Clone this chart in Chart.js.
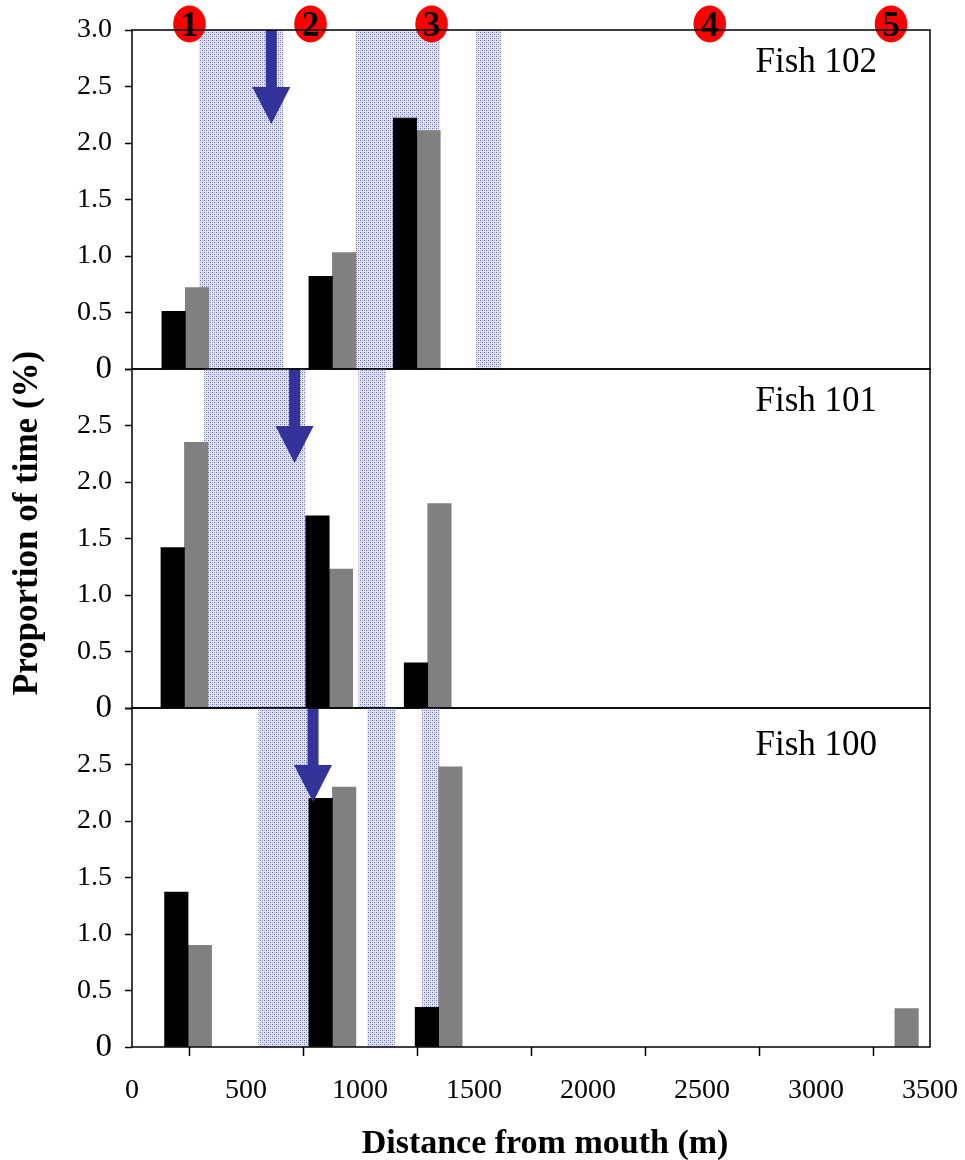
<!DOCTYPE html>
<html><head><meta charset="utf-8">
<script src="https://cdn.jsdelivr.net/npm/chart.js@4.4.1/dist/chart.umd.min.js"></script>
<style>
html,body{margin:0;padding:0;background:#fff;}
#wrap{position:relative;width:965px;height:1160px;overflow:hidden;}
canvas{position:absolute;left:0;top:0;}
</style></head><body>
<div id="wrap">
<canvas id="c1" width="965" height="1160"></canvas>
<canvas id="c2" width="965" height="1160"></canvas>
<canvas id="c3" width="965" height="1160"></canvas>
</div>
<script>
// ---- data ----
const distanceTicks = [0, 500, 1000, 1500, 2000, 2500, 3000, 3500];
const yTickValues = [0, 0.5, 1, 1.5, 2, 2.5, 3];
const yTickLabels = ['0', '0.5', '1.0', '1.5', '2.0', '2.5', '3.0'];
const fishNames = ['Fish 102', 'Fish 101', 'Fish 100'];

const fish102Dist  = [234, 879, 1249];
const fish102Black = [0.51, 0.82, 2.22];
const fish102Grey  = [0.72, 1.03, 2.11];

const fish101Dist  = [230, 865, 1297];
const fish101Black = [1.42, 1.70, 0.40];
const fish101Grey  = [2.35, 1.23, 1.81];

const fish100Dist  = [246, 879, 1345, 3346];
const fish100Black = [1.37, 2.20, 0.35, null];
const fish100Grey  = [0.90, 2.30, 2.48, 0.34];

const fish102Bands = [[294, 664], [979, 1351], [1509, 1618]];
const fish101Bands = [[316, 761], [993, 1114]];
const fish100Bands = [[554, 781], [1032, 1154], [1271, 1351]];

const arrowDist = [611, 713, 794];
const siteDist = [252, 783, 1314, 2534, 3329];
const siteLabels = ['1', '2', '3', '4', '5'];

const xTitle = 'Distance from mouth (m)';
const yTitle = 'Proportion of time (%)';

// ---- styling helpers ----
const SERIF = '"Liberation Serif", "Times New Roman", serif';
function makePattern(ctx) {
  const t = document.createElement('canvas');
  t.width = 4; t.height = 4;
  const g = t.getContext('2d');
  g.fillStyle = '#e3e4f4';
  g.fillRect(0, 0, 4, 4);
  g.fillStyle = '#6a6fc0';
  g.fillRect(0, 0, 1, 1);
  g.fillRect(2, 2, 1, 1);
  g.fillStyle = '#a9acdc';
  g.fillRect(2, 0, 1, 1);
  g.fillRect(0, 2, 1, 1);
  return ctx.createPattern(t, 'repeat');
}

function makePanel(id, idx, dist, black, grey, bands, padTop, padBottom, isBottom) {
  const toPts = (vals) => dist.map((d, k) => ({x: d, y: vals[k]})).filter(p => p.y !== null);
  const panelPlugin = {
    id: 'panelDeco' + idx,
    beforeDatasetsDraw(chart) {
      const {ctx, chartArea: a, scales: {x}} = chart;
      ctx.save();
      ctx.fillStyle = makePattern(ctx);
      bands.forEach(([s, e]) => {
        const x1 = x.getPixelForValue(s), x2 = x.getPixelForValue(e);
        ctx.fillRect(x1, a.top, x2 - x1, a.bottom - a.top);
      });
      if (idx === 0) {
        ctx.fillStyle = '#ff0000';
        siteDist.forEach(d => {
          ctx.beginPath();
          ctx.ellipse(x.getPixelForValue(d), a.top - 6, 16.3, 18.5, 0, 0, Math.PI * 2);
          ctx.fill();
        });
      }
      ctx.restore();
    },
    afterDatasetsDraw(chart) {
      const {ctx, chartArea: a, scales: {x}} = chart;
      ctx.save();
      // arrow
      const ax = x.getPixelForValue(arrowDist[idx]);
      ctx.fillStyle = '#333399';
      ctx.beginPath();
      ctx.moveTo(ax - 5.5, a.top);
      ctx.lineTo(ax + 5.5, a.top);
      ctx.lineTo(ax + 5.5, a.top + 57);
      ctx.lineTo(ax + 19, a.top + 57);
      ctx.lineTo(ax, a.top + 94);
      ctx.lineTo(ax - 19, a.top + 57);
      ctx.lineTo(ax - 5.5, a.top + 57);
      ctx.closePath();
      ctx.fill();
      // frame
      ctx.strokeStyle = '#000';
      ctx.lineWidth = 1.5;
      ctx.strokeRect(a.left, a.top, a.right - a.left, a.bottom - a.top);
      // fish label
      ctx.fillStyle = '#000';
      ctx.font = '35px ' + SERIF;
      ctx.textAlign = 'right';
      ctx.textBaseline = 'alphabetic';
      ctx.fillText(fishNames[idx], 877, a.top + [42, 42, 47][idx]);
      // site digits
      if (idx === 0) {
        ctx.font = 'bold 35px ' + SERIF;
        ctx.textAlign = 'center';
        siteDist.forEach((d, k) => {
          ctx.fillText(siteLabels[k], x.getPixelForValue(d), a.top + 6);
        });
      }
      if (idx === 1) {
        ctx.translate(37, 523);
        ctx.rotate(-Math.PI / 2);
        ctx.font = 'bold 35px ' + SERIF;
        ctx.textAlign = 'center';
        ctx.fillText(yTitle, 0, 0);
      }
      if (idx === 2) {
        ctx.font = 'bold 34px ' + SERIF;
        ctx.textAlign = 'center';
        ctx.fillText(xTitle, 545, 1153);
      }
      ctx.restore();
    }
  };

  return new Chart(document.getElementById(id), {
    type: 'bar',
    data: {
      datasets: [
        {label: 'black', data: toPts(black), backgroundColor: '#000000', barThickness: 23.5, borderWidth: 0},
        {label: 'grey', data: toPts(grey), backgroundColor: '#808080', barThickness: 23.5, borderWidth: 0}
      ]
    },
    options: {
      responsive: false,
      animation: false,
      layout: {padding: {top: padTop, bottom: padBottom, left: 0, right: 35}},
      plugins: {legend: {display: false}, tooltip: {enabled: false}, title: {display: false}},
      scales: {
        x: {
          type: 'linear', min: 0, max: 3500, offset: false, display: isBottom,
          afterBuildTicks: s => { s.ticks = distanceTicks.map(v => ({value: v})); },
          afterFit: s => {
            s.height = isBottom ? 113 : 0;
            s.paddingLeft = 0; s.paddingRight = 0;
          },
          ticks: {padding: 18, color: '#000', font: {family: SERIF, size: 28}, maxRotation: 0, autoSkip: false,
                  callback: v => String(v)},
          grid: {display: true, drawOnChartArea: false, drawTicks: true, tickLength: 9, tickWidth: 1.5, tickColor: '#000'},
          border: {display: false}
        },
        y: {
          min: 0, max: 3,
          afterBuildTicks: s => { s.ticks = yTickValues.map(v => ({value: v})); },
          afterFit: s => { s.width = 132; s.paddingTop = 0; s.paddingBottom = 0; },
          ticks: {
            autoSkip: false, padding: 13, color: '#000',
            font: c => ({family: SERIF, size: (c.tick && c.tick.value === 0) ? 33 : 28}),
            callback: v => (idx > 0 && v === 3) ? '' : yTickLabels[yTickValues.indexOf(v)]
          },
          grid: {display: true, drawOnChartArea: false, drawTicks: true, tickLength: 7, tickWidth: 1.5, tickColor: '#000'},
          border: {display: false}
        }
      }
    },
    plugins: [panelPlugin]
  });
}

makePanel('c1', 0, fish102Dist, fish102Black, fish102Grey, fish102Bands, 30, 1160 - 369, false);
makePanel('c2', 1, fish101Dist, fish101Black, fish101Grey, fish101Bands, 369, 1160 - 708, false);
makePanel('c3', 2, fish100Dist, fish100Black, fish100Grey, fish100Bands, 708, 0, true);
</script>
</body></html>
